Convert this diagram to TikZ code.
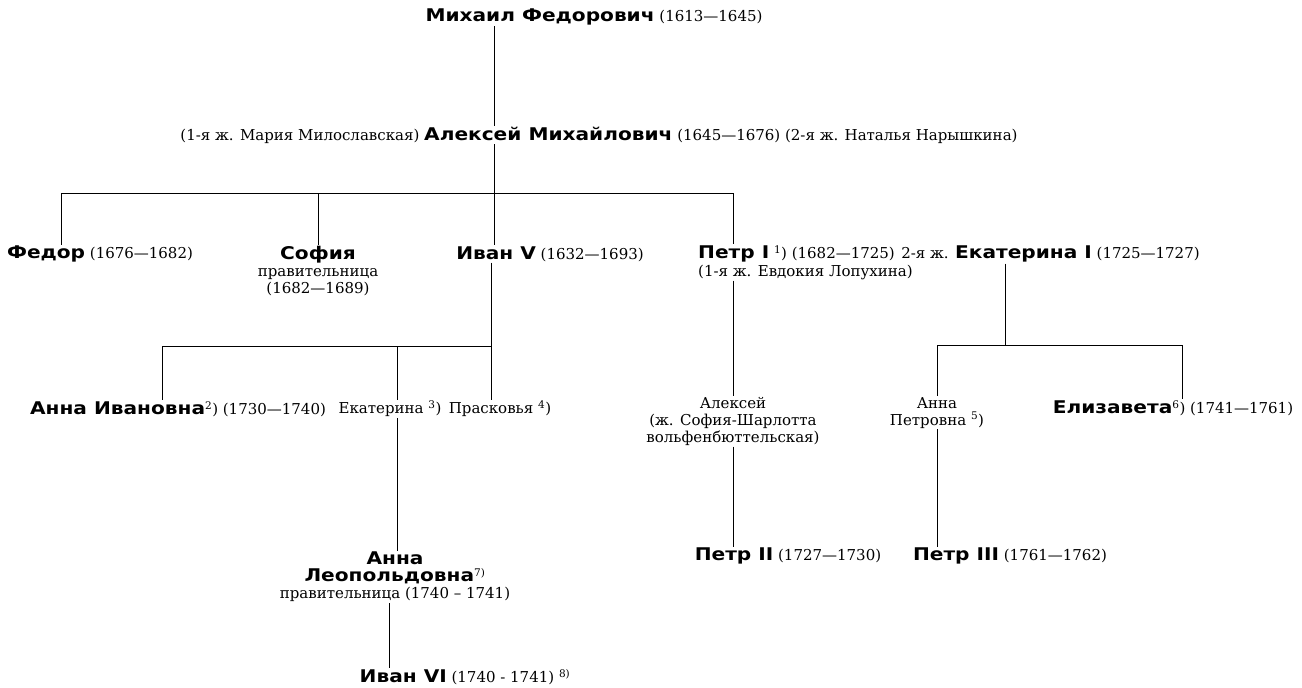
\documentclass[tikz,border=0pt]{standalone}
\usepackage{fontspec}
\setmainfont{DejaVu Serif}
\newfontfamily\heavyfont[FakeStretch=1.15]{DejaVu Sans}
\usetikzlibrary{positioning}
\newcommand\nm[1]{{\heavyfont\bfseries\fontsize{17.5}{19}\selectfont #1}}

\begin{document}
\begin{tikzpicture}[x=1pt,y=-1pt,
    txt/.style={inner sep=1pt,font=\fontsize{15}{17}\selectfont},
    ln/.style={line width=0.8pt}]
    \useasboundingbox (0,0) rectangle (1302,688);
    % generations
    \node[txt] (mikhail) at (594,17) {\nm{Михаил Федорович} (1613—1645)};
    \node[txt] (aleksei) at (599,135) {(1-я ж. Мария Милославская) \nm{Алексей Михайлович} (1645—1676) (2-я ж. Наталья Нарышкина)};
    \node[txt] (fedor) at (100,254) {\nm{Федор} (1676—1682)};
    \node[txt,align=center,anchor=north] (sofia) at (318,245) {\nm{София}\\правительница\\(1682—1689)};
    \node[txt] (ivan5) at (550,254) {\nm{Иван V} (1632—1693)};
    \node[txt,anchor=west] (petr1) at (697,254) {\nm{Петр I} \textsuperscript{1}) (1682—1725)};
    \node[txt,anchor=north west] (lopukhina) at (petr1.south west) {(1-я ж. Евдокия Лопухина)};
    \node[txt,right=4pt of petr1.base east,anchor=base west] (wife2) {2-я ж.};
    \node[txt,right=4pt of wife2.base east,anchor=base west] (ekat1) {\nm{Екатерина I} (1725—1727)};
    \node[txt] (annai) at (178,409) {\nm{Анна Ивановна}\textsuperscript{2}) (1730—1740)};
    \node[txt] (ekat) at (390,409) {Екатерина \textsuperscript{3})};
    \node[txt] (praskovya) at (500,409) {Прасковья \textsuperscript{4})};
    \node[txt,align=center,anchor=north] (alexei) at (733,396) {Алексей\\(ж. София-Шарлотта\\вольфенбюттельская)};
    \node[txt,align=center,anchor=north] (annap) at (937,396) {Анна\\Петровна \textsuperscript{5})};
    \node[txt] (elizaveta) at (1173,408) {\nm{Елизавета}\textsuperscript{6}) (1741—1761)};
    \node[txt,align=center,anchor=north] (annal) at (395,551) {\nm{Анна}\\\nm{Леопольдовна}\textsuperscript{7)}\\правительница (1740 – 1741)};
    \node[txt] (petr2) at (788,556) {\nm{Петр II} (1727—1730)};
    \node[txt] (petr3) at (1010,556) {\nm{Петр III} (1761—1762)};
    \node[txt] (ivan6) at (465,677) {\nm{Иван VI} (1740 - 1741) \textsuperscript{8)}};
    % bars
    \coordinate (jF) at (61,193);
    \coordinate (jS) at (318,193);
    \coordinate (jI) at (494,193);
    \coordinate (jP) at (733,193);
    \coordinate (jAI) at (162,346);
    \coordinate (jEk) at (397,346);
    \coordinate (jIv) at (491,346);
    \coordinate (jAP) at (937,345);
    \coordinate (jE1) at (1005,345);
    \coordinate (jEl) at (1182,345);
    \draw[ln] (jF) -- (jP);
    \draw[ln] (jAI) -- (jIv);
    \draw[ln] (jAP) -- (jEl);
    % lines
    \draw[ln] (mikhail.south -| jI) -- (aleksei.north -| jI);
    \draw[ln] (aleksei.south -| jI) -- (jI);
    \draw[ln] (jF) -- (jF |- fedor.north);
    \draw[ln] (jS) -- (sofia.north);
    \draw[ln] (jI) -- (jI |- ivan5.north);
    \draw[ln] (jP) -- (jP |- petr1.north);
    \draw[ln] (ivan5.south -| jIv) -- (jIv |- praskovya.north);
    \draw[ln] (jAI) -- (jAI |- annai.north);
    \draw[ln] (jEk) -- (jEk |- ekat.north);
    \draw[ln] (ekat.south -| jEk) -- (jEk |- annal.north);
    \draw[ln] (annal.south -| 389,0) -- (ivan6.north -| 389,0);
    \draw[ln] (lopukhina.south -| alexei.north) -- (alexei.north);
    \draw[ln] (alexei.south) -- (alexei.south |- petr2.north);
    \draw[ln] (ekat1.south -| jE1) -- (jE1);
    \draw[ln] (jAP) -- (annap.north);
    \draw[ln] (jEl) -- (jEl |- elizaveta.north);
    \draw[ln] (annap.south) -- (annap.south |- petr3.north);
\end{tikzpicture}
\end{document}
